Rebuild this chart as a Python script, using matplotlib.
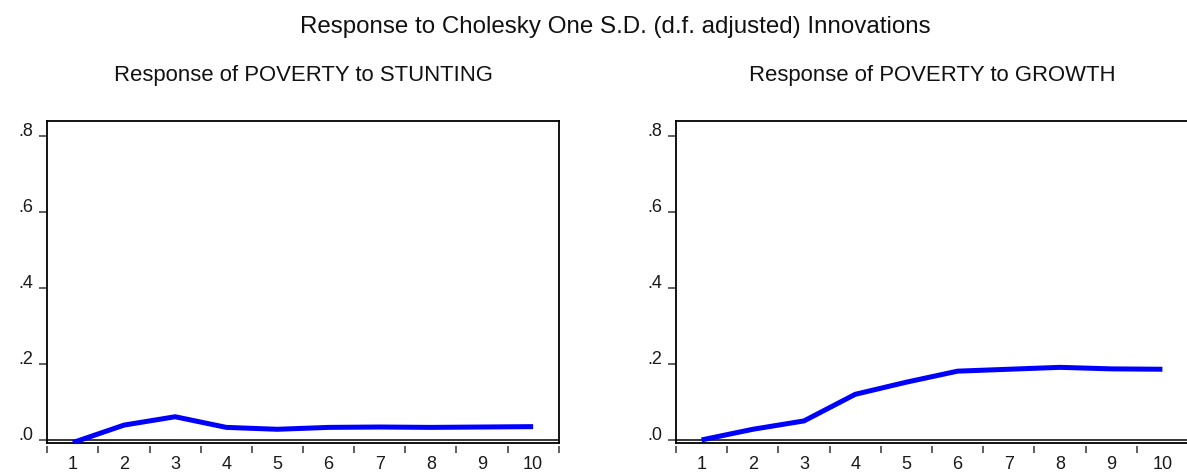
import matplotlib
matplotlib.use("Agg")
import matplotlib.pyplot as plt
import numpy as np

plt.rcParams['font.family'] = ['Liberation Sans', 'DejaVu Sans']

# ---- data ----
periods = [1, 2, 3, 4, 5, 6, 7, 8, 9, 10]
resp_stunting = [-0.006, 0.040, 0.062, 0.034, 0.029, 0.034, 0.035, 0.034, 0.035, 0.036]
resp_growth = [0.001, 0.029, 0.051, 0.121, 0.153, 0.182, 0.187, 0.192, 0.188, 0.187]
ytick_vals = [0.0, 0.2, 0.4, 0.6, 0.8]
ytick_labels = ['.0', '.2', '.4', '.6', '.8']
main_title = "Response to Cholesky One S.D. (d.f. adjusted) Innovations"
sub_titles = ["Response of POVERTY to STUNTING", "Response of POVERTY to GROWTH"]

W, H = 1187, 474
fig = plt.figure(figsize=(W / 100, H / 100), dpi=100)


def rect(l, r, t, b):
    return [l / W, 1 - b / H, (r - l) / W, (b - t) / H]


axes = [fig.add_axes(rect(47.3, 558.7, 120.7, 443)),
        fig.add_axes(rect(676, 1188, 120.7, 443))]
series = [resp_stunting, resp_growth]

for ax, vals, title in zip(axes, series, sub_titles):
    ax.plot(periods, vals, color='#0000ff', lw=3.6, solid_joinstyle='miter',
            solid_capstyle='butt', zorder=3)
    ax.axhline(0, color='black', lw=1.1, zorder=2)
    ax.set_xlim(0.5, 10.5)
    ax.set_ylim(-0.0071, 0.8411)
    for s in ax.spines.values():
        s.set_linewidth(1.3)
        s.set_color('black')
    ax.set_yticks(ytick_vals)
    ax.set_yticklabels(ytick_labels, va='baseline')
    ax.tick_params(axis='y', direction='out', length=6, width=1.2, color='#444444',
                   pad=4, labelsize=13, labelcolor='#1a1a1a')
    ax.set_xticks(periods)
    ax.set_xticklabels([str(p) for p in periods])
    ax.tick_params(axis='x', which='major', length=0, pad=9.5, labelsize=13,
                   labelcolor='#1a1a1a')
    sec = ax.secondary_xaxis(-0.008)
    sec.set_xticks([])
    sec.set_xticks(np.arange(0.5, 11, 1.0), minor=True)
    sec.tick_params(which='minor', direction='out', length=4.8, width=1.2, color='#444444')
    sec.spines['bottom'].set_visible(False)
    ax.set_title(title, fontsize=15.9, pad=28.5, color='#111111')

fig.text(615.5 / W, 1 - 27 / H, main_title, ha='center', va='center', fontsize=17.4,
         color='#111111')

fig.savefig('out.png', dpi=100, facecolor='white')
